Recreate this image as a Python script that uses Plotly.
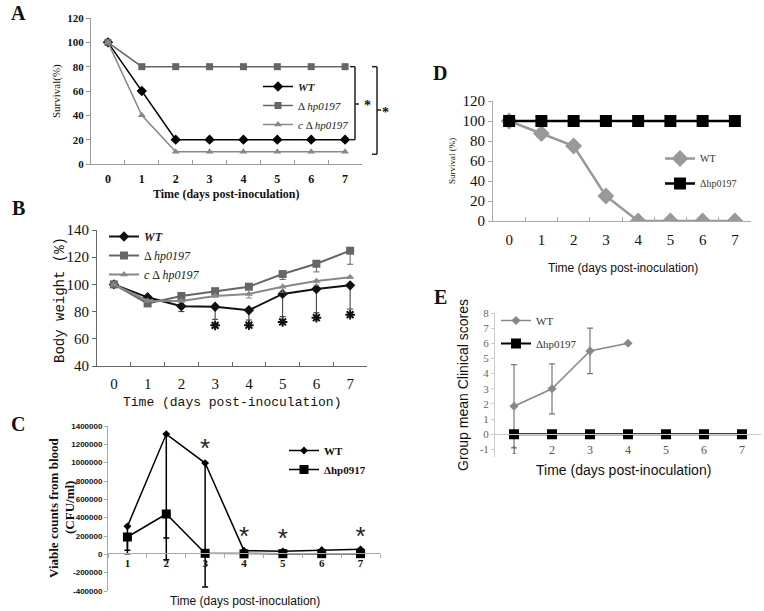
import plotly.graph_objects as go

# ---------------- data ----------------
days_a = [0, 1, 2, 3, 4, 5, 6, 7]
surv_a_wt = [100, 60, 20, 20, 20, 20, 20, 20]
surv_a_mut = [100, 80, 80, 80, 80, 80, 80, 80]
surv_a_comp = [100, 40, 10, 10, 10, 10, 10, 10]

days_b = [0, 1, 2, 3, 4, 5, 6, 7]
bw_wt = [100, 90.5, 84, 83.6, 81, 93, 96.6, 99.3]
bw_wt_err = [0, 0, 4, 9.3, 7.2, 16.7, 17.4, 17.4]
bw_mut = [100, 86, 91.5, 95, 98.3, 107.6, 115.2, 124.8]
bw_mut_err = [0, 0, 0, 0, 0, 4, 6, 10]
bw_comp = [100, 88, 87.8, 91.5, 93, 98.3, 102.5, 105.2]
bw_comp_err = [0, 0, 0, 0, 3, 4, 3, 0]
star_b_days = [3, 4, 5, 6, 7]
star_b_y = [69.9, 70, 72.4, 75.5, 77.7]

days_c = [1, 2, 3, 4, 5, 6, 7]
cfu_wt = [305000, 1312000, 996000, 40000, 33000, 47000, 55000]
cfu_wt_err = [300000, 1370000, 1353000, 0, 0, 0, 0]
cfu_mut = [189000, 440000, 11000, 5000, 7000, 7000, 7000]
cfu_mut_err = [145000, 262000, 0, 0, 0, 0, 0]
star_c_days = [3, 4, 5, 7]
star_c_y = [1131000, 171000, 153000, 171000]
c_tickvals = [-400000, -200000, 0, 200000, 400000, 600000, 800000, 1000000, 1200000, 1400000]
c_ticktext = ["-400000", "-200000", "0", "200000", "400000", "600000", "800000", "1000000", "1200000", "1400000"]

days_d = [0, 1, 2, 3, 4, 5, 6, 7]
surv_d_wt = [100, 87.5, 75, 25, 0, 0, 0, 0]
surv_d_mut = [100, 100, 100, 100, 100, 100, 100, 100]

days_e = [1, 2, 3, 4, 5, 6, 7]
score_wt_days = [1, 2, 3, 4]
score_wt = [1.85, 3, 5.5, 6]
score_wt_err = [2.75, 1.65, 1.5, 0]
score_mut = [0, 0, 0, 0, 0, 0, 0]
e_tickvals = [-1, 0, 1, 2, 3, 4, 5, 6, 7, 8]
e_ticktext = ["-1", "0", "1", "2", "3", "4", "5", "6", "7", "8"]

# ---------------- helpers ----------------
W, H = 764, 611
def px(x):
    return x / W
def py(y):
    return 1 - y / H

SERIF = "Liberation Serif"
SANS = "Liberation Sans"
MONO = "Liberation Mono"

fig = go.Figure()

# ---------------- Panel A ----------------
fig.add_trace(go.Scatter(x=days_a, y=surv_a_wt, mode="lines+markers", name="<i><b>WT</b></i>", legendgroup="a1",
                         line=dict(color="#000", width=1.5), marker=dict(symbol="diamond", size=8, color="#000"),
                         xaxis="x", yaxis="y", legend="legend"))
fig.add_trace(go.Scatter(x=days_a, y=surv_a_mut, mode="lines+markers", name="Δ <i>hp0197</i>", legendgroup="a2",
                         line=dict(color="#666", width=1.5), marker=dict(symbol="square", size=7, color="#666"),
                         xaxis="x", yaxis="y", legend="legend"))
fig.add_trace(go.Scatter(x=days_a, y=surv_a_comp, mode="lines+markers", name="<i>c</i> Δ <i>hp0197</i>",
                         legendgroup="a3",
                         line=dict(color="#888", width=1.5), marker=dict(symbol="triangle-up", size=7, color="#888"),
                         xaxis="x", yaxis="y", legend="legend"))

# ---------------- Panel B ----------------
fig.add_trace(go.Scatter(x=days_b, y=bw_wt, mode="lines+markers", name="<i><b>WT</b></i>", legendgroup="b1",
                         line=dict(color="#111", width=2), marker=dict(symbol="diamond", size=8, color="#111"),
                         error_y=dict(type="data", symmetric=False, array=[0]*8, arrayminus=bw_wt_err,
                                      color="#333", thickness=1, width=3),
                         xaxis="x2", yaxis="y2", legend="legend2"))
fig.add_trace(go.Scatter(x=days_b, y=bw_mut, mode="lines+markers", name="Δ <i>hp0197</i>", legendgroup="b2",
                         line=dict(color="#666", width=2), marker=dict(symbol="square", size=8, color="#666"),
                         error_y=dict(type="data", symmetric=False, array=[0]*8, arrayminus=bw_mut_err,
                                      color="#666", thickness=1, width=3),
                         xaxis="x2", yaxis="y2", legend="legend2"))
fig.add_trace(go.Scatter(x=days_b, y=bw_comp, mode="lines+markers", name="<i>c</i> Δ <i>hp0197</i>",
                         legendgroup="b3",
                         line=dict(color="#888", width=2), marker=dict(symbol="triangle-up", size=7, color="#888"),
                         error_y=dict(type="data", symmetric=False, array=[0]*8, arrayminus=bw_comp_err,
                                      color="#888", thickness=1, width=3),
                         xaxis="x2", yaxis="y2", legend="legend2"))
fig.add_trace(go.Scatter(x=star_b_days, y=star_b_y, mode="markers", showlegend=False,
                         marker=dict(symbol="asterisk-open", size=8, color="#111",
                                     line=dict(color="#111", width=2)),
                         xaxis="x2", yaxis="y2"))

# ---------------- Panel C ----------------
fig.add_trace(go.Scatter(x=days_c, y=cfu_wt, mode="lines+markers", name="<b>WT</b>", legendgroup="c1",
                         line=dict(color="#000", width=1.5), marker=dict(symbol="diamond", size=6, color="#000"),
                         error_y=dict(type="data", symmetric=False, array=[0]*7, arrayminus=cfu_wt_err,
                                      color="#000", thickness=1.5, width=3),
                         xaxis="x3", yaxis="y3", legend="legend3"))
fig.add_trace(go.Scatter(x=days_c, y=cfu_mut, mode="lines+markers", name="<b>Δhp0917</b>", legendgroup="c2",
                         line=dict(color="#000", width=1.5), marker=dict(symbol="square", size=9, color="#000"),
                         error_y=dict(type="data", symmetric=False, array=[0]*7, arrayminus=cfu_mut_err,
                                      color="#000", thickness=1.5, width=3),
                         xaxis="x3", yaxis="y3", legend="legend3"))
fig.add_trace(go.Scatter(x=star_c_days, y=star_c_y, mode="text", text=["*"]*len(star_c_days),
                         textfont=dict(size=26, color="#222", family=SANS), showlegend=False,
                         xaxis="x3", yaxis="y3"))

# ---------------- Panel D ----------------
fig.add_trace(go.Scatter(x=days_d, y=surv_d_wt, mode="lines+markers", name="WT", legendgroup="d1",
                         line=dict(color="#999", width=2.5), marker=dict(symbol="diamond", size=13, color="#999"),
                         xaxis="x4", yaxis="y4", legend="legend4"))
fig.add_trace(go.Scatter(x=days_d, y=surv_d_mut, mode="lines+markers", name="Δhp0197", legendgroup="d2",
                         line=dict(color="#000", width=2.5), marker=dict(symbol="square", size=12, color="#000"),
                         xaxis="x4", yaxis="y4", legend="legend4"))

# ---------------- Panel E ----------------
fig.add_trace(go.Scatter(x=score_wt_days, y=score_wt, mode="lines+markers", name="WT", legendgroup="e1",
                         line=dict(color="#888", width=1.5), marker=dict(symbol="diamond", size=7, color="#888"),
                         error_y=dict(type="data", array=score_wt_err, color="#777", thickness=1.2, width=3),
                         xaxis="x5", yaxis="y5", legend="legend5"))
fig.add_trace(go.Scatter(x=days_e, y=score_mut, mode="lines+markers", name="Δhp0197", legendgroup="e2",
                         line=dict(color="#000", width=2), marker=dict(symbol="square", size=10, color="#000"),
                         xaxis="x5", yaxis="y5", legend="legend5"))

# ---------------- axes ----------------
def cat_x(domain, font, anchor, linecolor, ticks="inside", **kw):
    d = dict(domain=domain, type="category", showgrid=False, zeroline=False, showline=True,
             linecolor=linecolor, linewidth=1, ticks=ticks, tickson="boundaries", ticklen=4,
             tickcolor=linecolor, tickfont=font, anchor=anchor)
    d.update(kw)
    return d

layout = dict(
    width=W, height=H, margin=dict(l=0, r=0, t=0, b=0, autoexpand=False),
    paper_bgcolor="white", plot_bgcolor="white",
    # A
    xaxis=cat_x([px(91), px(362)], dict(family=SERIF, size=12, color="#111", weight="bold"), "y", "#999",
                 range=[-0.5, 7.5], ticklabelstandoff=4),
    yaxis=dict(domain=[py(164), py(18)], range=[0, 120], dtick=20, showgrid=False, zeroline=False,
               showline=True, linecolor="#999", ticks="outside", ticklen=4, tickcolor="#999",
               tickfont=dict(family=SERIF, size=11, color="#111", weight="bold"), anchor="x"),
    # B
    xaxis2=cat_x([px(97), px(367)], dict(family=SERIF, size=15, color="#111"), "y2", "#666",
                 range=[-0.5, 7.5], ticklabelstandoff=4),
    yaxis2=dict(domain=[py(366), py(230)], range=[40, 140], dtick=20, showgrid=False, zeroline=False,
                showline=True, linecolor="#666", ticks="outside", ticklen=4, tickcolor="#666",
                tickfont=dict(family=SERIF, size=15, color="#111"), anchor="x2"),
    # C
    xaxis3=cat_x([px(108), px(380)], dict(family=SERIF, size=11, color="#111", weight="bold"), "free", "#aaa",
                 ticks="outside", range=[-0.5, 6.5], position=py(553)),
    yaxis3=dict(domain=[py(591), py(426)], range=[-400000, 1400000], tickvals=c_tickvals, ticktext=c_ticktext,
                showgrid=False, zeroline=False, showline=True, linecolor="#aaa", ticks="outside", ticklen=3,
                tickcolor="#aaa", tickfont=dict(family=SANS, size=8, color="#111", weight="bold"), anchor="x3"),
    # D
    xaxis4=cat_x([px(493), px(751)], dict(family=SERIF, size=15, color="#111"), "y4", "#aaa",
                 range=[-0.5, 7.5], ticklabelstandoff=5),
    yaxis4=dict(domain=[py(221), py(101)], range=[0, 120], dtick=20, showgrid=False, zeroline=False,
                showline=True, linecolor="#aaa", ticks="outside", ticklen=4, tickcolor="#aaa",
                tickfont=dict(family=SERIF, size=15, color="#111"), anchor="x4"),
    # E
    xaxis5=dict(domain=[px(495), px(761)], type="category", range=[-0.5, 6.5], showgrid=False, zeroline=False,
                showline=True, linecolor="#ccc", ticks="", tickfont=dict(family=SERIF, size=12, color="#555"),
                anchor="free", position=py(434), ticklabelstandoff=5),
    yaxis5=dict(domain=[py(457), py(313)], range=[-1.5, 8], tickvals=e_tickvals, ticktext=e_ticktext,
                showgrid=False, zeroline=False, showline=True, linecolor="#ccc", ticks="outside", ticklen=3,
                tickcolor="#ccc", tickfont=dict(family=SERIF, size=11, color="#666"), anchor="x5"),
    # legends
    legend=dict(x=px(258), y=py(72), xanchor="left", yanchor="top", bgcolor="rgba(255,255,255,0)",
                font=dict(family=SERIF, size=11, color="#222"), tracegroupgap=0),
    legend2=dict(x=px(104), y=py(222), xanchor="left", yanchor="top", bgcolor="rgba(255,255,255,0)",
                 font=dict(family=SERIF, size=12, color="#222"), tracegroupgap=0),
    legend3=dict(x=px(284), y=py(436), xanchor="left", yanchor="top", bgcolor="rgba(255,255,255,0)",
                 font=dict(family=SERIF, size=11, color="#111"), tracegroupgap=0),
    legend4=dict(x=px(660), y=py(144), xanchor="left", yanchor="top", bgcolor="rgba(255,255,255,0)",
                 font=dict(family=SERIF, size=10, color="#333"), tracegroupgap=6),
    legend5=dict(x=px(496), y=py(306), xanchor="left", yanchor="top", bgcolor="rgba(255,255,255,0)",
                 font=dict(family=SERIF, size=11, color="#333"), tracegroupgap=4),
)
fig.update_layout(**layout)

# ---------------- annotations (titles, panel letters) ----------------
def ann(text, x, y, size, family=SERIF, angle=0, color="#111", bold=False):
    t = f"<b>{text}</b>" if bold else text
    fig.add_annotation(text=t, x=px(x), y=py(y), xref="paper", yref="paper", showarrow=False,
                       textangle=angle, font=dict(family=family, size=size, color=color),
                       xanchor="center", yanchor="middle")

ann("A", 18, 13, 20, bold=True)
ann("B", 18, 208, 20, bold=True)
ann("C", 18, 424, 20, bold=True)
ann("D", 440, 73, 20, bold=True)
ann("E", 440, 297, 20, bold=True)

ann("Survival(%)", 56, 91, 11, angle=-90)
ann("Time (days post-inoculation)", 226, 194, 12, bold=True)
ann("Body weight (%)", 60, 300, 14, family=MONO, angle=-90)
ann("Time (days post-inoculation)", 232, 403, 13, family=MONO)
ann("Viable counts from blood", 54, 508, 13, angle=-90, bold=True)
ann("(CFU/ml)", 70, 508, 13, angle=-90, bold=True)
ann("Time (days post-inoculation)", 245, 601, 12, family=SANS)
ann("Survival (%)", 452, 161, 9, angle=-90)
ann("Time (days post-inoculation)", 623, 268, 12, family=SANS)
ann("Group mean Clinical scores", 463, 385, 14, family=SANS, angle=-90)
ann("Time (days post-inoculation)", 623, 470, 14, family=SANS)

# brackets with significance stars for panel A
def bracket(xpx, y0, y1, ymid_px, star_x):
    col = "#222"
    fig.add_shape(type="line", xref="paper", yref="y", x0=px(xpx), x1=px(xpx), y0=y0, y1=y1,
                  line=dict(color=col, width=1.5))
    fig.add_shape(type="line", xref="paper", yref="y", x0=px(xpx - 5), x1=px(xpx), y0=y0, y1=y0,
                  line=dict(color=col, width=1.5))
    fig.add_shape(type="line", xref="paper", yref="y", x0=px(xpx - 5), x1=px(xpx), y0=y1, y1=y1,
                  line=dict(color=col, width=1.5))
    fig.add_shape(type="line", xref="paper", yref="paper", x0=px(xpx), x1=px(xpx + 4),
                  y0=py(ymid_px), y1=py(ymid_px), line=dict(color=col, width=1.5))
    ann("*", star_x, ymid_px + 2, 14, bold=True)

bracket(355, 80, 20, 104, 367)
bracket(377, 80, 8, 110, 386)

fig.write_html("out.html", config={"displayModeBar": False},
               post_script="document.body.style.margin='0px';")
